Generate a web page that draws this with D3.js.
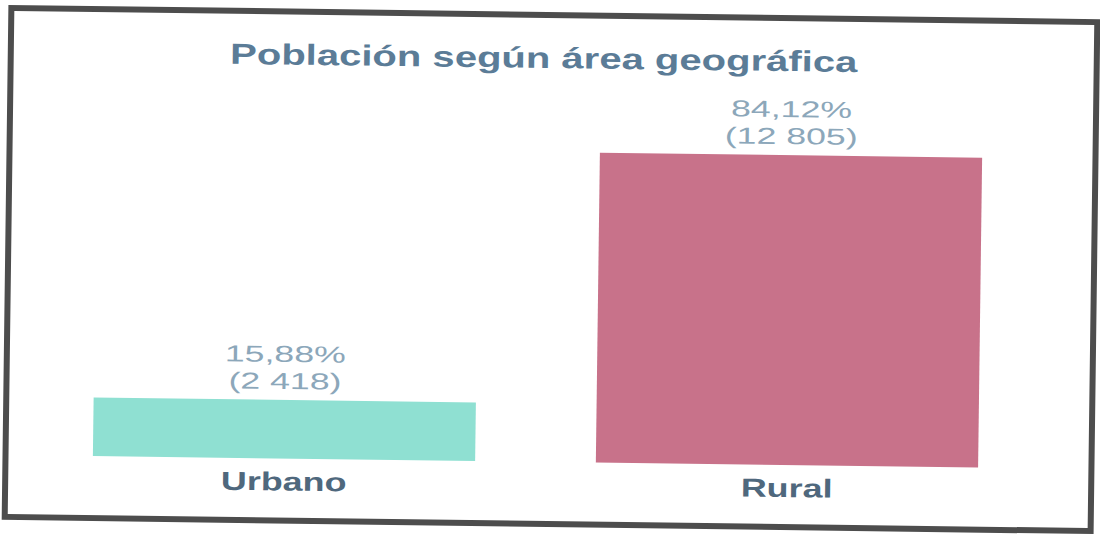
<!DOCTYPE html>
<meta charset="utf-8">
<script src="https://d3js.org/d3.v7.min.js"></script>
<style>
  body { margin: 0; background: #fff; }
</style>
<div id="my_chart"><svg></svg></div>
<script>
// chart data
var categories = ["Urbano", "Rural"];
var counts = [2418, 12805];
var percents = [15.88, 84.12];
var title = "Población según área geográfica";

var colors = ["#8fe0d2", "#c8728a"];

var W = 1100, H = 538;
var svg = d3.select("#my_chart").select("svg")
    .attr("width", W)
    .attr("height", H);

// the scanned page is a bit tilted
var g = svg.append("g")
    .attr("transform", "rotate(0.75,551,269)");

// frame
g.append("rect")
    .attr("x", 8).attr("y", 15)
    .attr("width", 1086).attr("height", 509)
    .attr("fill", "#fff")
    .attr("stroke", "#4d4d4d")
    .attr("stroke-width", 6);

var locale = d3.formatLocale({decimal: ",", thousands: " ", grouping: [3], currency: ["", ""]});
var fmtPct = locale.format(".2f");
var fmtNum = locale.format(",d");

var x = d3.scaleBand()
    .domain(categories)
    .range([35, 1041])
    .paddingInner(0.24)
    .paddingOuter(0.12);

var y = d3.scaleLinear()
    .domain([0, d3.max(counts)])
    .range([462, 152]);

var data = categories.map(function(c, i) {
    return {cat: c, count: counts[i], pct: percents[i], color: colors[i]};
});

// stretch text horizontally like the scan
function widen(k) {
    return function(sel) {
        sel.each(function() {
            var len = this.getComputedTextLength();
            d3.select(this)
                .attr("textLength", len * k)
                .attr("lengthAdjust", "spacingAndGlyphs");
        });
    };
}

// title
g.append("text")
    .attr("x", 541)
    .attr("y", 68)
    .attr("text-anchor", "middle")
    .style("font-family", "'Liberation Sans', Arial, sans-serif")
    .style("font-weight", "bold")
    .style("font-size", "29px")
    .attr("fill", "#5b7c97")
    .text(title)
    .call(widen(1.38));

// bars
g.selectAll(".bar")
    .data(data)
    .enter().append("rect")
    .attr("class", "bar")
    .attr("x", function(d) { return x(d.cat); })
    .attr("width", x.bandwidth())
    .attr("y", function(d) { return y(d.count); })
    .attr("height", function(d) { return y(0) - y(d.count); })
    .attr("fill", function(d) { return d.color; });

// value labels (two lines)
g.selectAll(".pct")
    .data(data)
    .enter().append("text")
    .attr("class", "pct")
    .attr("x", function(d) { return x(d.cat) + x.bandwidth() / 2; })
    .attr("y", function(d) { return y(d.count) - 38; })
    .attr("text-anchor", "middle")
    .style("font-family", "'Liberation Sans', Arial, sans-serif")
    .style("font-size", "23px")
    .attr("fill", "#8ca7ba")
    .text(function(d) { return fmtPct(d.pct) + "%"; })
    .call(widen(1.55));

g.selectAll(".cnt")
    .data(data)
    .enter().append("text")
    .attr("class", "cnt")
    .attr("x", function(d) { return x(d.cat) + x.bandwidth() / 2; })
    .attr("y", function(d) { return y(d.count) - 11; })
    .attr("text-anchor", "middle")
    .style("font-family", "'Liberation Sans', Arial, sans-serif")
    .style("font-size", "23px")
    .attr("fill", "#8ca7ba")
    .text(function(d) { return "(" + fmtNum(d.count) + ")"; })
    .call(widen(1.55));

// category labels
g.selectAll(".cat")
    .data(data)
    .enter().append("text")
    .attr("class", "cat")
    .attr("x", function(d) { return x(d.cat) + x.bandwidth() / 2; })
    .attr("y", y(0) + 32)
    .attr("text-anchor", "middle")
    .style("font-family", "'Liberation Sans', Arial, sans-serif")
    .style("font-weight", "bold")
    .style("font-size", "26px")
    .attr("fill", "#4f687d")
    .text(function(d) { return d.cat; })
    .call(widen(1.38));
</script>
